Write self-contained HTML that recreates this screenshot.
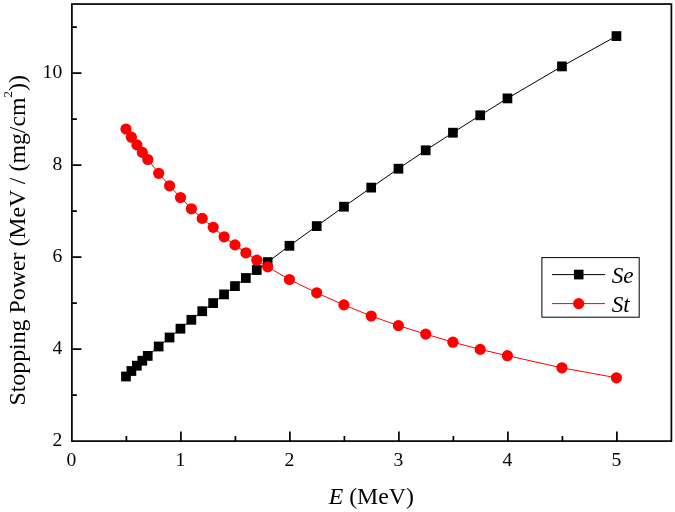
<!DOCTYPE html>
<html lang="en">
<head>
<meta charset="utf-8">
<title>Stopping Power vs E</title>
<style>
html,body{margin:0;padding:0;background:#fff;}
body{width:675px;height:512px;overflow:hidden;}
svg{display:block;}
text{font-family:"Liberation Serif",serif;fill:#000;}
.tk{font-size:19.6px;}
.ax{font-size:23.8px;}
.lg{font-size:23.3px;font-style:italic;}
</style>
</head>
<body>
<svg width="675" height="512" viewBox="0 0 675 512">
<rect x="0" y="0" width="675" height="512" fill="#ffffff"/>

<polyline points="126.0,376.5 131.4,371.0 136.9,365.7 142.3,360.7 147.8,355.9 158.7,346.5 169.6,337.5 180.5,328.7 191.4,319.8 202.2,311.2 213.2,303.1 224.1,294.4 235.0,286.1 245.9,278.0 256.8,270.0 267.7,262.1 289.4,245.8 316.7,226.1 343.9,206.7 371.2,187.6 398.4,168.7 425.7,150.3 452.9,132.7 480.2,115.3 507.4,98.4 561.9,66.4 616.4,36.1" fill="none" stroke="#000" stroke-width="1"/>
<rect x="121.10" y="371.60" width="9.7" height="9.8" fill="#000"/>
<rect x="126.55" y="366.10" width="9.7" height="9.8" fill="#000"/>
<rect x="132.00" y="360.80" width="9.7" height="9.8" fill="#000"/>
<rect x="137.45" y="355.80" width="9.7" height="9.8" fill="#000"/>
<rect x="142.90" y="351.00" width="9.7" height="9.8" fill="#000"/>
<rect x="153.80" y="341.60" width="9.7" height="9.8" fill="#000"/>
<rect x="164.70" y="332.60" width="9.7" height="9.8" fill="#000"/>
<rect x="175.60" y="323.80" width="9.7" height="9.8" fill="#000"/>
<rect x="186.50" y="314.90" width="9.7" height="9.8" fill="#000"/>
<rect x="197.40" y="306.30" width="9.7" height="9.8" fill="#000"/>
<rect x="208.30" y="298.20" width="9.7" height="9.8" fill="#000"/>
<rect x="219.20" y="289.50" width="9.7" height="9.8" fill="#000"/>
<rect x="230.10" y="281.20" width="9.7" height="9.8" fill="#000"/>
<rect x="241.00" y="273.10" width="9.7" height="9.8" fill="#000"/>
<rect x="251.90" y="265.10" width="9.7" height="9.8" fill="#000"/>
<rect x="262.80" y="257.20" width="9.7" height="9.8" fill="#000"/>
<rect x="284.60" y="240.90" width="9.7" height="9.8" fill="#000"/>
<rect x="311.85" y="221.20" width="9.7" height="9.8" fill="#000"/>
<rect x="339.10" y="201.80" width="9.7" height="9.8" fill="#000"/>
<rect x="366.35" y="182.70" width="9.7" height="9.8" fill="#000"/>
<rect x="393.60" y="163.80" width="9.7" height="9.8" fill="#000"/>
<rect x="420.85" y="145.40" width="9.7" height="9.8" fill="#000"/>
<rect x="448.10" y="127.80" width="9.7" height="9.8" fill="#000"/>
<rect x="475.35" y="110.40" width="9.7" height="9.8" fill="#000"/>
<rect x="502.60" y="93.50" width="9.7" height="9.8" fill="#000"/>
<rect x="557.10" y="61.50" width="9.7" height="9.8" fill="#000"/>
<rect x="611.60" y="31.20" width="9.7" height="9.8" fill="#000"/>
<polyline points="126.0,129.0 131.4,137.2 136.9,144.9 142.3,152.4 147.8,159.5 158.7,173.3 169.6,185.8 180.5,197.5 191.4,208.8 202.2,218.4 213.2,227.3 224.1,236.8 235.0,244.9 245.9,252.8 256.8,260.2 267.7,266.9 289.4,279.5 316.7,292.8 343.9,304.9 371.2,316.0 398.4,325.6 425.7,334.1 452.9,342.2 480.2,349.4 507.4,355.7 561.9,367.8 616.4,377.8" fill="none" stroke="#ff0000" stroke-width="1"/>
<circle cx="126.0" cy="129.0" r="5.6" fill="#ff0000"/>
<circle cx="131.4" cy="137.2" r="5.6" fill="#ff0000"/>
<circle cx="136.9" cy="144.9" r="5.6" fill="#ff0000"/>
<circle cx="142.3" cy="152.4" r="5.6" fill="#ff0000"/>
<circle cx="147.8" cy="159.5" r="5.6" fill="#ff0000"/>
<circle cx="158.7" cy="173.3" r="5.6" fill="#ff0000"/>
<circle cx="169.6" cy="185.8" r="5.6" fill="#ff0000"/>
<circle cx="180.5" cy="197.5" r="5.6" fill="#ff0000"/>
<circle cx="191.4" cy="208.8" r="5.6" fill="#ff0000"/>
<circle cx="202.2" cy="218.4" r="5.6" fill="#ff0000"/>
<circle cx="213.2" cy="227.3" r="5.6" fill="#ff0000"/>
<circle cx="224.1" cy="236.8" r="5.6" fill="#ff0000"/>
<circle cx="235.0" cy="244.9" r="5.6" fill="#ff0000"/>
<circle cx="245.9" cy="252.8" r="5.6" fill="#ff0000"/>
<circle cx="256.8" cy="260.2" r="5.6" fill="#ff0000"/>
<circle cx="267.7" cy="266.9" r="5.6" fill="#ff0000"/>
<circle cx="289.4" cy="279.5" r="5.6" fill="#ff0000"/>
<circle cx="316.7" cy="292.8" r="5.6" fill="#ff0000"/>
<circle cx="343.9" cy="304.9" r="5.6" fill="#ff0000"/>
<circle cx="371.2" cy="316.0" r="5.6" fill="#ff0000"/>
<circle cx="398.4" cy="325.6" r="5.6" fill="#ff0000"/>
<circle cx="425.7" cy="334.1" r="5.6" fill="#ff0000"/>
<circle cx="452.9" cy="342.2" r="5.6" fill="#ff0000"/>
<circle cx="480.2" cy="349.4" r="5.6" fill="#ff0000"/>
<circle cx="507.4" cy="355.7" r="5.6" fill="#ff0000"/>
<circle cx="561.9" cy="367.8" r="5.6" fill="#ff0000"/>
<circle cx="616.4" cy="377.8" r="5.6" fill="#ff0000"/>
<rect x="71.90" y="4.05" width="599.50" height="437.05" fill="none" stroke="#000" stroke-width="1.70"/>
<path d="M126.40 441.10v-5.00M180.90 441.10v-9.50M235.40 441.10v-5.00M289.90 441.10v-9.50M344.40 441.10v-5.00M398.90 441.10v-9.50M453.40 441.10v-5.00M507.90 441.10v-9.50M562.40 441.10v-5.00M616.90 441.10v-9.50M71.90 395.10h5.00M71.90 349.10h9.50M71.90 303.10h5.00M71.90 257.10h9.50M71.90 211.10h5.00M71.90 165.10h9.50M71.90 119.10h5.00M71.90 73.10h9.50M71.90 27.10h5.00" stroke="#000" stroke-width="1.7" fill="none"/>
<text class="tk" x="71.5" y="465.8" text-anchor="middle">0</text>
<text class="tk" x="180.5" y="465.8" text-anchor="middle">1</text>
<text class="tk" x="289.5" y="465.8" text-anchor="middle">2</text>
<text class="tk" x="398.5" y="465.8" text-anchor="middle">3</text>
<text class="tk" x="507.5" y="465.8" text-anchor="middle">4</text>
<text class="tk" x="616.5" y="465.8" text-anchor="middle">5</text>
<text class="tk" x="62.2" y="446.3" text-anchor="end">2</text>
<text class="tk" x="62.2" y="354.3" text-anchor="end">4</text>
<text class="tk" x="62.2" y="262.3" text-anchor="end">6</text>
<text class="tk" x="62.2" y="170.3" text-anchor="end">8</text>
<text class="tk" x="62.2" y="78.3" text-anchor="end">10</text>
<text class="ax" x="371.35" y="504" text-anchor="middle"><tspan font-style="italic">E</tspan> (MeV)</text>
<text class="ax" style="font-size:23.85px" transform="translate(24.9 240.3) rotate(-90)" text-anchor="middle">Stopping Power (MeV / (mg/cm<tspan font-size="13px" dy="-12.6">2</tspan><tspan dy="12.6">))</tspan></text>
<rect x="541.9" y="257.6" width="97.3" height="59.6" fill="#fff" stroke="#000" stroke-width="1"/>
<path d="M552 274.6H605" stroke="#000" stroke-width="1"/>
<rect x="573.9" y="269.7" width="9.6" height="9.7" fill="#000"/>
<path d="M552 303.6H605" stroke="#ff0000" stroke-width="1"/>
<circle cx="578.7" cy="303.6" r="5.6" fill="#ff0000"/>
<text class="lg" x="611.7" y="283.0">Se</text>
<text class="lg" x="611.7" y="311.9">St</text>
</svg>
</body>
</html>
